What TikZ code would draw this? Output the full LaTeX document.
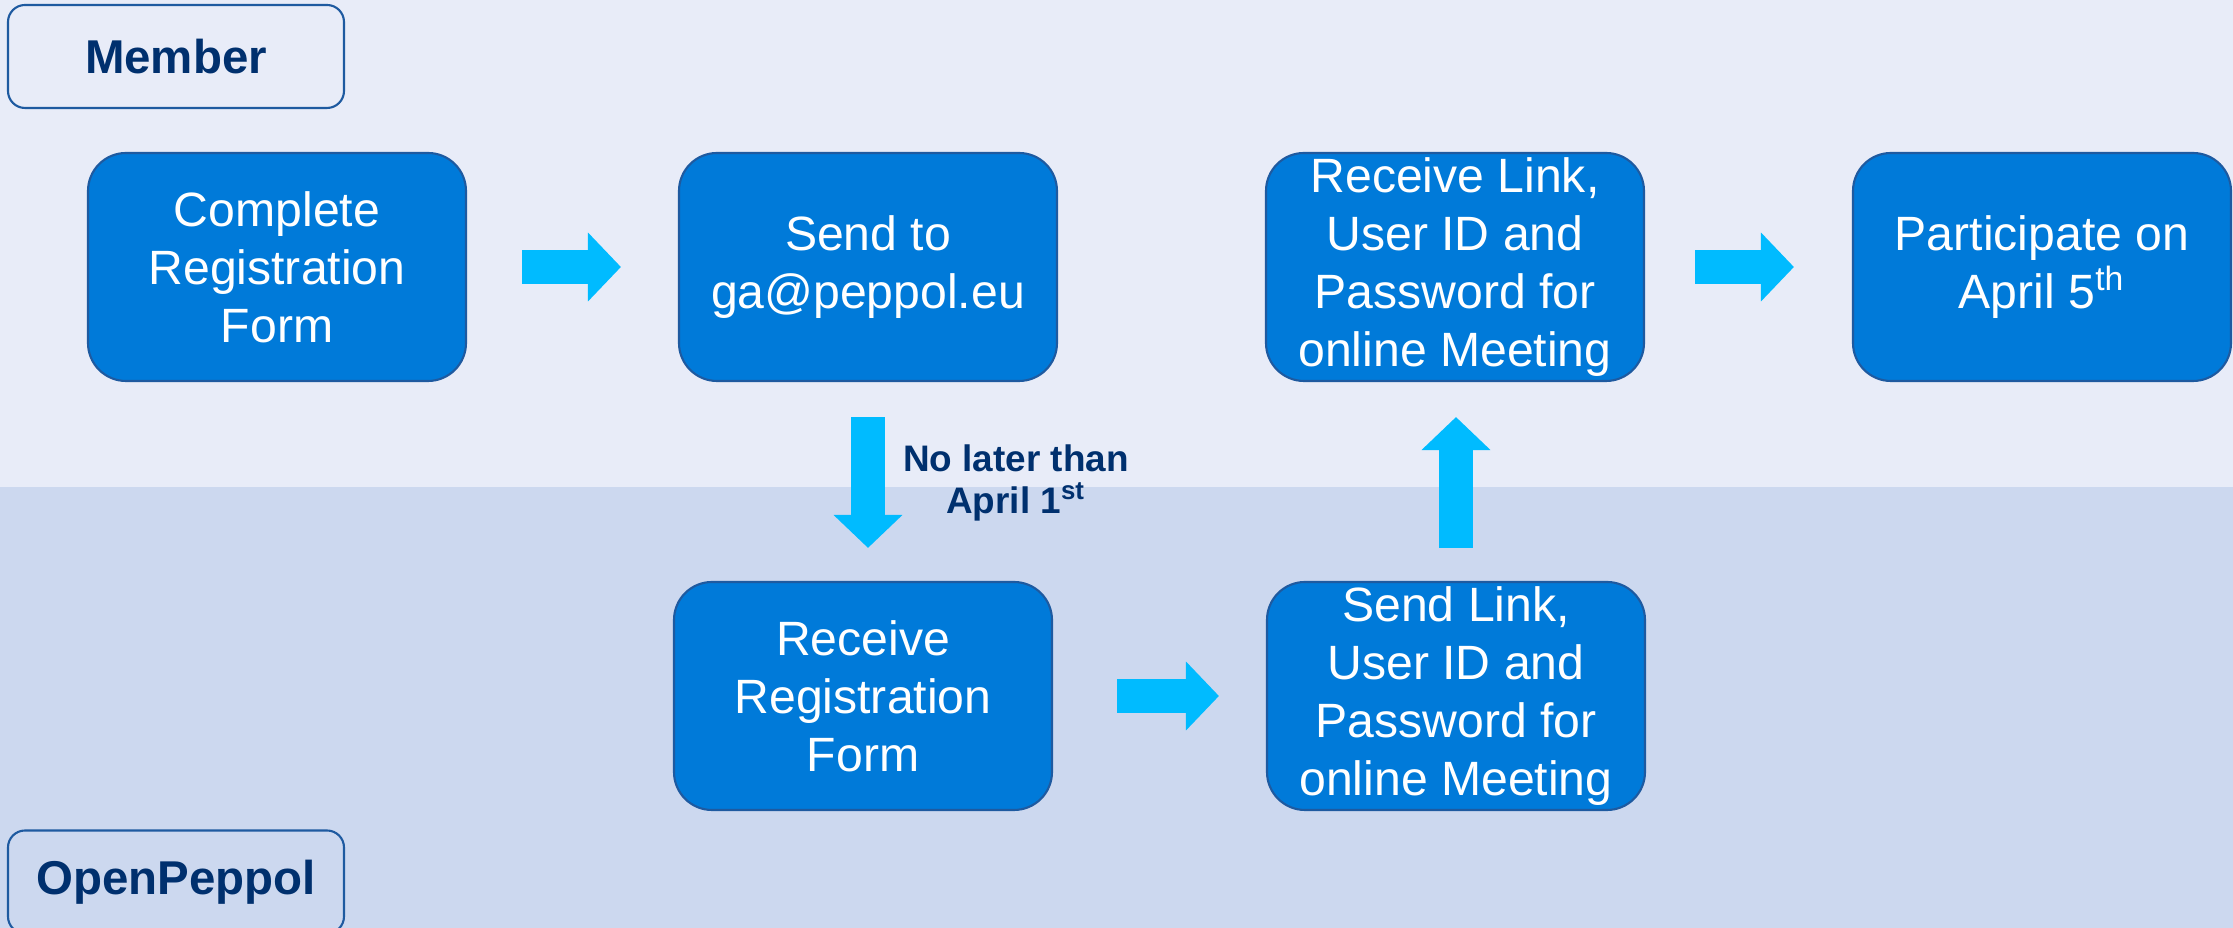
\documentclass[tikz,border=0pt]{standalone}
\usepackage{fontspec}
\setmainfont{Liberation Sans}
\usetikzlibrary{arrows.meta,calc}

\definecolor{bandtop}{RGB}{232,236,248}
\definecolor{bandlow}{RGB}{204,216,239}
\definecolor{boxblue}{RGB}{0,122,217}
\definecolor{boxedge}{RGB}{30,90,160}
\definecolor{arrowblue}{RGB}{0,187,255}
\definecolor{navy}{RGB}{0,48,110}

\tikzset{
  stepbox/.style={draw=boxedge, line width=0.6pt, fill=boxblue, rounded corners=0.38cm,
    minimum width=3.78cm, minimum height=2.28cm, inner sep=0pt, align=center,
    text=white, font=\fontsize{13.7pt}{16.5pt}\selectfont},
  lanelabel/.style={draw=boxedge, line width=0.6pt, rounded corners=0.17cm,
    minimum width=3.36cm, minimum height=1.03cm, inner sep=0pt, text=navy,
    font=\bfseries\fontsize{13.5pt}{16pt}\selectfont},
  deadline/.style={inner sep=0pt, align=center, text=navy,
    font=\bfseries\fontsize{10.5pt}{12.2pt}\selectfont},
  flow/.style={arrowblue, line width=0.34cm, -{Triangle[length=0.33cm 0 0, width=0.67cm 0 0]}},
}

\begin{document}
\begin{tikzpicture}

  \useasboundingbox (0,0) rectangle (22.33,-9.28);

  % lanes
  \fill[bandtop] (0,0) rectangle (22.33,-4.87);
  \fill[bandlow] (0,-4.87) rectangle (22.33,-9.28);

  % lane labels
  \node[lanelabel] (member) at (1.76,-0.565) {Member};
  \node[lanelabel] (openpeppol) at (1.76,-8.82) {OpenPeppol};

  % member steps
  \node[stepbox] (complete) at (2.77,-2.67) {Complete\\Registration\\Form};
  \node[stepbox] (sendto) at (8.68,-2.67) {Send to\\ga@peppol.eu};
  \node[stepbox] (getlink) at (14.55,-2.67) {Receive Link,\\User ID and\\Password for\\online Meeting};
  \node[stepbox] (attend) at (20.42,-2.67) {Participate on\\April 5\textsuperscript{th}};

  % openpeppol steps
  \node[stepbox] (getform) at (8.63,-6.96) {Receive\\Registration\\Form};
  \node[stepbox] (sendlink) at (14.56,-6.96) {Send Link,\\User ID and\\Password for\\online Meeting};

  % deadline
  \node[deadline] (due) at (10.16,-4.83) {No later than\\April 1\textsuperscript{st}};

  % arrows
  \draw[flow] ($(complete.east)+(0.55,0)$) -- ($(sendto.west)+(-0.57,0)$);
  \draw[flow] ($(getlink.east)+(0.50,0)$) -- ($(attend.west)+(-0.58,0)$);
  \draw[flow] ($(getform.east)+(0.64,0)$) -- ($(sendlink.west)+(-0.47,0)$);
  \draw[flow] ($(sendto.south)+(0,-0.35)$) -- ($(sendto.south |- getform.north)+(0,0.33)$);
  \draw[flow] ($(sendlink.north)+(0,0.33)$) -- ($(sendlink.north |- getlink.south)+(0,-0.35)$);

\end{tikzpicture}
\end{document}
